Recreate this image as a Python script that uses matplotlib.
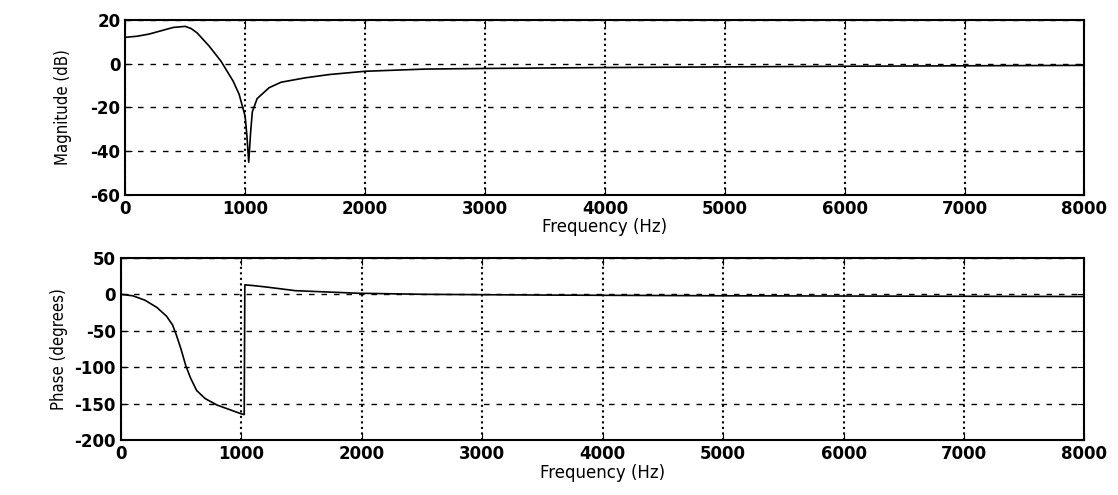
import matplotlib
matplotlib.use("Agg")
import matplotlib.pyplot as plt

plt.rcParams['axes.unicode_minus'] = False

# magnitude response
freq_mag = [0, 100, 200, 300, 400, 500, 550, 600, 700, 800, 900, 950, 1000,
            1015, 1030, 1045, 1060, 1100, 1200, 1300, 1500, 1700, 2000, 2500,
            3000, 4000, 5000, 6000, 7000, 8000]
mag_db = [12, 12.5, 13.5, 15, 16.5, 17, 16, 14, 8, 1, -8, -14, -24,
          -33, -45, -32, -22, -16, -11, -8.5, -6.5, -5, -3.5, -2.5,
          -2.2, -1.8, -1.5, -1.2, -1.0, -0.8]

# phase response
freq_ph = [0, 100, 200, 300, 380, 430, 460, 500, 540, 580, 630, 700, 800,
           900, 1000, 1025, 1030, 1100, 1210, 1450, 1970, 2520, 3500, 5000,
           6500, 8000]
phase_deg = [0, -2, -8, -18, -30, -42, -55, -75, -98, -115, -132, -143, -152,
             -158, -164, -165, 13, 12, 10, 5, 1.5, 0, -1, -2,
             -2.5, -3]

freq_ticks = [0, 1000, 2000, 3000, 4000, 5000, 6000, 7000, 8000]
mag_ticks = [-60, -40, -20, 0, 20]
phase_ticks = [-200, -150, -100, -50, 0, 50]

fig = plt.figure(figsize=(11.18, 4.95), dpi=100)
ax1 = fig.add_axes([0.112, 0.606, 0.858, 0.354])
ax2 = fig.add_axes([0.108, 0.111, 0.862, 0.368])

def style(ax, yticks, ylabel):
    ax.set_xlim(0, 8000)
    ax.set_ylim(yticks[0], yticks[-1])
    ax.set_xticks(freq_ticks)
    ax.set_yticks(yticks)
    ax.xaxis.grid(True, linestyle=':', color='black', linewidth=1.5)
    ax.yaxis.grid(True, linestyle=(0, (4, 5)), color='black', linewidth=1.0)
    ax.tick_params(direction='in', top=True, right=True, labelsize=12, length=5)
    for lab in ax.get_xticklabels() + ax.get_yticklabels():
        lab.set_fontweight('bold')
    for s in ax.spines.values():
        s.set_linewidth(1.5)
    ax.set_xlabel('Frequency (Hz)', fontsize=12)
    ax.set_ylabel(ylabel, fontsize=12, fontstretch='condensed')
    ax.xaxis.set_label_coords(0.5, -0.13)
    ax.yaxis.set_label_coords(-0.055, 0.5)

ax1.plot(freq_mag, mag_db, color='black', linewidth=1.2)
style(ax1, mag_ticks, 'Magnitude (dB)')

ax2.plot(freq_ph, phase_deg, color='black', linewidth=1.2)
style(ax2, phase_ticks, 'Phase (degrees)')

fig.savefig('out.png', dpi=100, facecolor='white')
